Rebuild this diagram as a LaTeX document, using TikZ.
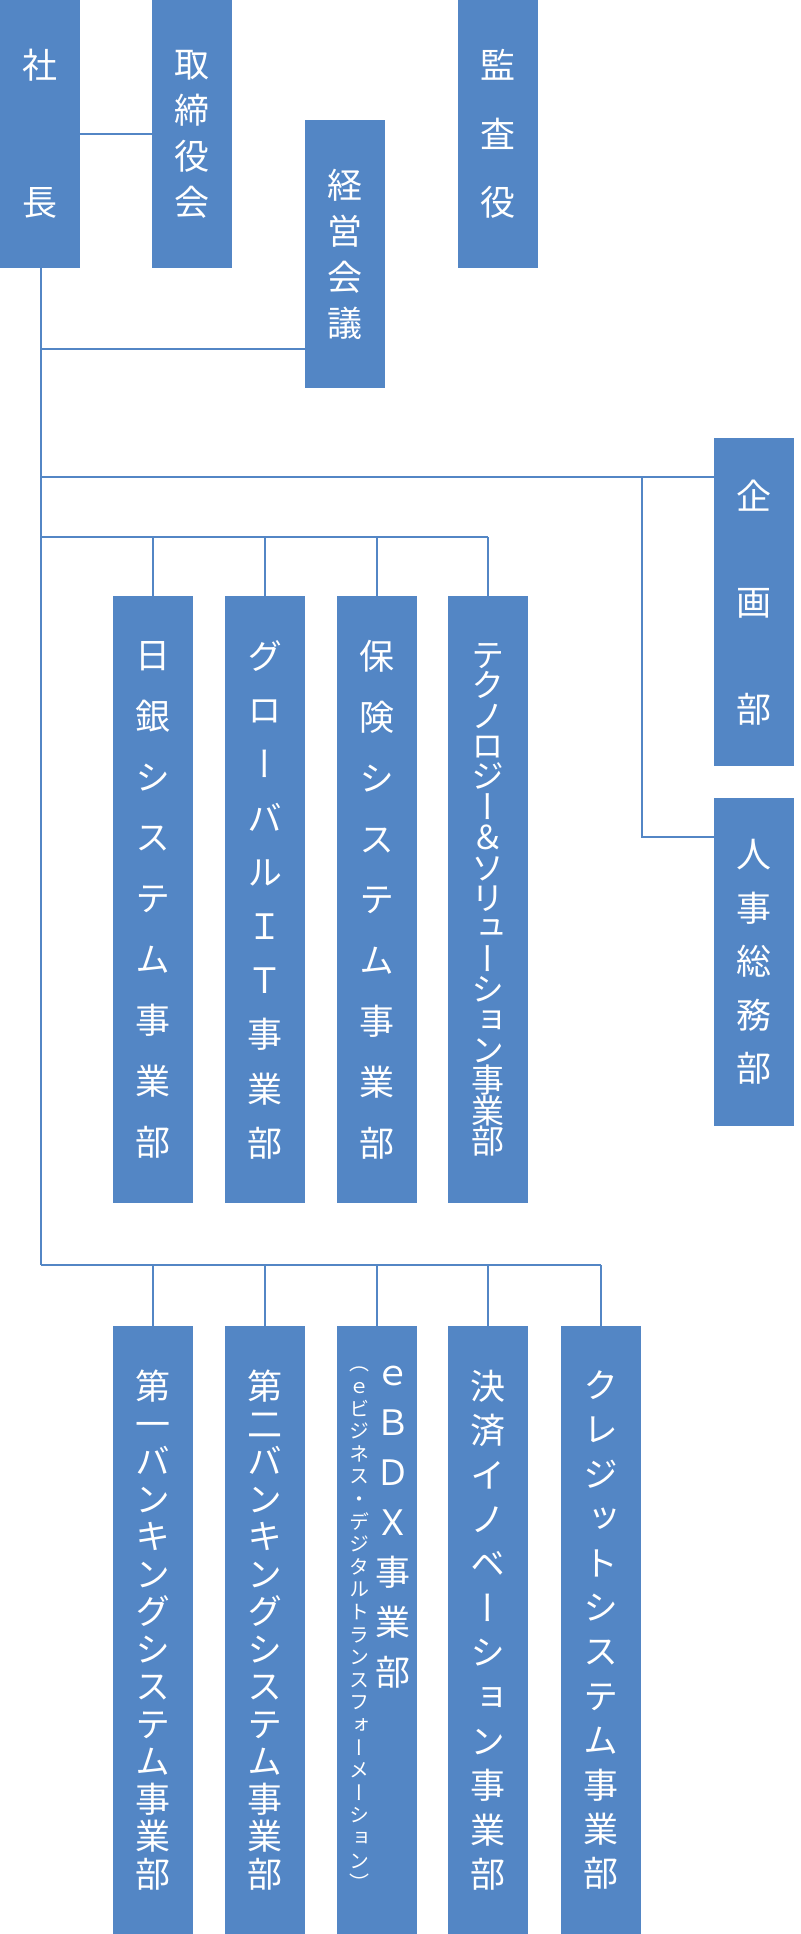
\documentclass[tikz,border=0pt]{standalone}
\usepackage{fontspec}
\newfontfamily\jp[RawFeature={+vert}]{Noto Sans CJK JP}
\definecolor{boxblue}{RGB}{83,134,197}
\tikzset{
  orgbox/.style={fill=boxblue, draw=none, inner sep=0pt, minimum width=80pt,
    anchor=north west, text=white, align=center},
  coltext/.style={text=white, inner sep=0pt, align=center},
  conn/.style={draw=boxblue, line width=2pt},
}
\newcommand\jfont[2]{\jp\fontsize{#1}{#2}\selectfont\lineskiplimit=-1000pt\lineskip=0pt}
\begin{document}
\begin{tikzpicture}[x=1pt,y=-1pt]
\useasboundingbox (0,0) rectangle (800,1934);
% top row
\node[orgbox, minimum height=268pt, font=\jfont{35}{137}] (shacho) at (0,0) {社\\長};
\node[orgbox, minimum height=268pt, font=\jfont{35}{46}] (torishimari) at (152,0) {取\\締\\役\\会};
\node[orgbox, minimum height=268pt, font=\jfont{35}{46}] (keiei) at (305,120) {経\\営\\会\\議};
\node[orgbox, minimum height=268pt, font=\jfont{35}{68.5}] (kansa) at (458,0) {監\\査\\役};
% staff
\node[orgbox, minimum height=328pt, font=\jfont{35}{106.5}] (kikaku) at (714,438) {企\\画\\部};
\node[orgbox, minimum height=328pt, font=\jfont{35}{53.5}] (jinji) at (714,798) {人\\事\\総\\務\\部};
% middle row
\node[orgbox, minimum height=607pt, font=\jfont{35}{60.9}] (nichigin) at (113,596) {日\\銀\\シ\\ス\\テ\\ム\\事\\業\\部};
\node[orgbox, minimum height=607pt, font=\jfont{35}{54.1}] (global) at (225,596) {グ\\ロ\\ー\\バ\\ル\\Ｉ\\Ｔ\\事\\業\\部};
\node[orgbox, minimum height=607pt, font=\jfont{35}{60.9}] (hoken) at (337,596) {保\\険\\シ\\ス\\テ\\ム\\事\\業\\部};
\node[orgbox, minimum height=607pt, font=\jfont{33}{30.4}] (techno) at (448,596) {テ\\ク\\ノ\\ロ\\ジ\\ー\\＆\\ソ\\リ\\ュ\\ー\\シ\\ョ\\ン\\事\\業\\部};
% bottom row
\node[orgbox, minimum height=608pt, font=\jfont{35}{37.5}] (daiichi) at (113,1326) {第\\一\\バ\\ン\\キ\\ン\\グ\\シ\\ス\\テ\\ム\\事\\業\\部};
\node[orgbox, minimum height=608pt, font=\jfont{35}{37.5}] (daini) at (225,1326) {第\\二\\バ\\ン\\キ\\ン\\グ\\シ\\ス\\テ\\ム\\事\\業\\部};
\node[orgbox, minimum height=608pt] (ebdx) at (337,1326) {};
\node[coltext, font=\jfont{35}{50}] (ebdxmain) at (393,1527) {ｅ\\Ｂ\\Ｄ\\Ｘ\\事\\業\\部};
\node[coltext, font=\jfont{20}{22.6}] (ebdxsub) at (359,1629) {（\\ｅ\\ビ\\ジ\\ネ\\ス\\・\\デ\\ジ\\タ\\ル\\ト\\ラ\\ン\\ス\\フ\\ォ\\ー\\メ\\ー\\シ\\ョ\\ン\\）};
\node[orgbox, minimum height=608pt, font=\jfont{35}{44.4}] (kessai) at (448,1326) {決\\済\\イ\\ノ\\ベ\\ー\\シ\\ョ\\ン\\事\\業\\部};
\node[orgbox, minimum height=608pt, font=\jfont{35}{44.4}] (credit) at (561,1326) {ク\\レ\\ジ\\ッ\\ト\\シ\\ス\\テ\\ム\\事\\業\\部};
% junction coordinates
\coordinate (t1) at (41,349);
\coordinate (t2) at (41,477);
\coordinate (t3) at (41,537);
\coordinate (t4) at (41,1265);
\coordinate (sb) at (642,477);
% connectors
\draw[conn] (shacho.east) -- (torishimari.west);
\draw[conn] (shacho.south -| t1) -- (t4);
\draw[conn] (t1) -- (t1 -| keiei.west);
\draw[conn] (t2) -- (t2 -| kikaku.west);
\draw[conn] (sb) |- (jinji.west |- 0,837);
\draw[conn] (t3) -- (t3 -| techno.north);
\foreach \n in {nichigin,global,hoken,techno}
  \draw[conn] (t3 -| \n.north) -- (\n.north);
\draw[conn] (t4) -- (t4 -| credit.north);
\foreach \n in {daiichi,daini,ebdx,kessai,credit}
  \draw[conn] (t4 -| \n.north) -- (\n.north);
\end{tikzpicture}
\end{document}
